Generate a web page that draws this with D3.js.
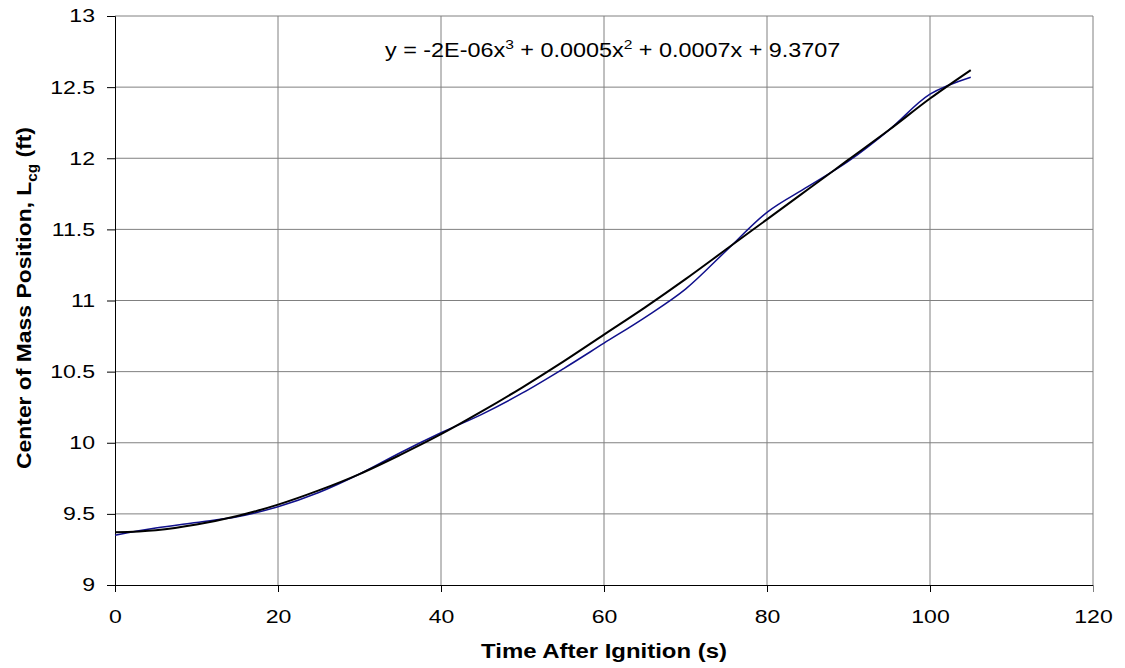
<!DOCTYPE html>
<html>
<head>
<meta charset="utf-8">
<script src="https://cdn.jsdelivr.net/npm/d3@7"></script>
<style>
  body { margin: 0; background: #fff; }
  svg { font-family: "Liberation Sans", Arial, sans-serif; }
</style>
</head>
<body>
<svg id="chart"></svg>
<script>
// Time after ignition (s)
const times = [0, 5, 10, 15, 20, 25, 30, 35, 40, 45, 50, 55, 60, 65, 70, 75, 80, 85, 90, 95, 100, 105];
// Measured center of mass position (ft)
const lcg = [9.35, 9.40, 9.44, 9.48, 9.55, 9.65, 9.78, 9.93, 10.07, 10.20, 10.35, 10.52, 10.70, 10.88, 11.08, 11.35, 11.62, 11.80, 11.98, 12.20, 12.45, 12.57];
// Cubic trendline as drawn (ft)
const trend = [9.37, 9.385, 9.425, 9.485, 9.565, 9.665, 9.78, 9.915, 10.06, 10.22, 10.39, 10.57, 10.76, 10.95, 11.15, 11.36, 11.57, 11.78, 11.99, 12.20, 12.42, 12.62];
const xTicks = [0, 20, 40, 60, 80, 100, 120];
const yTicks = [9, 9.5, 10, 10.5, 11, 11.5, 12, 12.5, 13];

const W = 1125, H = 668;
const margin = { top: 16, right: 32, bottom: 83, left: 115 };
const width = W - margin.left - margin.right;
const height = H - margin.top - margin.bottom;

// the original text is a little stretched sideways
const stretch = 1.24;

const root = d3.select("#chart").attr("width", W).attr("height", H);
const svg = root.append("g").attr("transform", `translate(${margin.left},${margin.top})`);

const x = d3.scaleLinear().domain([0, 120]).range([0, width]);
const y = d3.scaleLinear().domain([9, 13]).range([height, 0]);

// Gridlines
svg.append("g").selectAll("line").data(yTicks.slice(1)).enter().append("line")
  .attr("x1", 0).attr("x2", width)
  .attr("y1", d => y(d)).attr("y2", d => y(d))
  .attr("stroke", "#808080").attr("stroke-width", 1);
svg.append("g").selectAll("line").data(xTicks.slice(1)).enter().append("line")
  .attr("x1", d => x(d)).attr("x2", d => x(d))
  .attr("y1", 0).attr("y2", height)
  .attr("stroke", "#808080").attr("stroke-width", 1);

// Axes
const xAxis = svg.append("g")
  .attr("transform", `translate(0,${height})`)
  .call(d3.axisBottom(x).tickValues(xTicks).tickSizeOuter(0).tickSize(7).tickPadding(18));
const yAxis = svg.append("g")
  .call(d3.axisLeft(y).tickValues(yTicks).tickFormat(d3.format("")).tickSizeOuter(0).tickSize(8).tickPadding(12));
[xAxis, yAxis].forEach(a => {
  a.selectAll("text").attr("font-size", 18.6).attr("fill", "#000")
    .attr("font-family", "'Liberation Sans', Arial, sans-serif")
    .attr("transform", `scale(${stretch},1)`);
  a.selectAll("line").attr("stroke", "#000");
  a.select(".domain").attr("stroke", "#000");
});
yAxis.selectAll("text").attr("x", -20 / stretch);
xAxis.selectAll(".tick line").filter(d => d === 120).attr("stroke", "#808080");

// Lines
const data = times.map((t, i) => ({ t, v: lcg[i], f: trend[i] }));
svg.append("path").datum(data)
  .attr("fill", "none").attr("stroke", "#10108c").attr("stroke-width", 1.5)
  .attr("d", d3.line().x(d => x(d.t)).y(d => y(d.v)).curve(d3.curveCatmullRom));
svg.append("path").datum(data)
  .attr("fill", "none").attr("stroke", "#000").attr("stroke-width", 2)
  .attr("d", d3.line().x(d => x(d.t)).y(d => y(d.f)).curve(d3.curveCatmullRom));

// Equation label
const eq = svg.append("text")
  .attr("transform", `translate(${385 - margin.left},${57 - margin.top}) scale(1.2,1)`)
  .attr("font-size", 19.5);
eq.append("tspan").text("y = -2E-06x");
eq.append("tspan").attr("dy", -8).attr("font-size", 13).text("3");
eq.append("tspan").attr("dy", 8).text(" + 0.0005x");
eq.append("tspan").attr("dy", -8).attr("font-size", 13).text("2");
eq.append("tspan").attr("dy", 8).text(" + 0.0007x + 9.3707");

// Axis titles
svg.append("text")
  .attr("transform", `translate(${width / 2},${658 - margin.top}) scale(1.14,1)`)
  .attr("text-anchor", "middle").attr("font-weight", "bold").attr("font-size", 21)
  .text("Time After Ignition (s)");

const yt = svg.append("text")
  .attr("transform", `translate(${31 - margin.left},${298 - margin.top}) rotate(-90) scale(1.09,1)`)
  .attr("text-anchor", "middle").attr("font-weight", "bold").attr("font-size", 21);
yt.append("tspan").text("Center of Mass Position, L");
yt.append("tspan").attr("dy", 6).attr("font-size", 14).text("cg");
yt.append("tspan").attr("dy", -6).text(" (ft)");
</script>
</body>
</html>
